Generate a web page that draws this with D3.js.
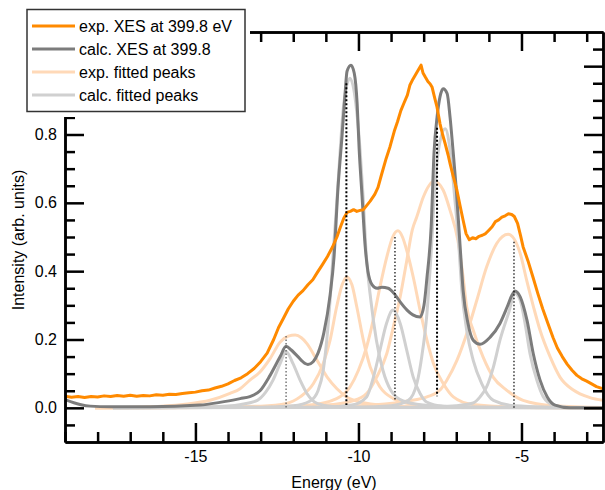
<!DOCTYPE html>
<html>
<head>
<meta charset="utf-8">
<script src="https://cdn.jsdelivr.net/npm/d3@7.9.0/dist/d3.min.js"></script>
<style>
  html, body { margin: 0; padding: 0; background: #fff; }
  svg { display: block; font-family: "Liberation Sans", Arial, sans-serif; }
</style>
</head>
<body>
<svg id="chart" width="605" height="490"></svg>
<script>
// axis ticks
const energyMajor = [-15, -10, -5];
const energyMinor = d3.range(-19, -2, 1).filter(d => d % 5 !== 0);
const intensityMajor = [0, 0.2, 0.4, 0.6, 0.8, 1.0];
const intensityMinor = [-0.05, 0.05, 0.1, 0.15, 0.25, 0.3, 0.35, 0.45, 0.5, 0.55, 0.65, 0.7, 0.75, 0.85, 0.9, 0.95, 1.05];

const legendLabels = ['exp. XES at 399.8 eV', 'calc. XES at 399.8', 'exp. fitted peaks', 'calc. fitted peaks'];

// measured spectrum [energy, intensity]
const expXES = [
  [-19.0,0.034],[-18.8,0.031],[-18.6,0.033],[-18.4,0.030],[-18.2,0.033],[-18.0,0.032],[-17.8,0.035],
  [-17.6,0.033],[-17.4,0.036],[-17.2,0.034],[-17.0,0.037],[-16.8,0.034],[-16.6,0.036],[-16.4,0.035],
  [-16.2,0.038],[-16.0,0.037],[-15.8,0.040],[-15.6,0.039],[-15.4,0.042],[-15.2,0.044],[-15.0,0.046],
  [-14.8,0.050],[-14.6,0.052],[-14.4,0.058],[-14.2,0.063],[-14.0,0.070],[-13.8,0.080],[-13.6,0.088],
  [-13.4,0.100],[-13.2,0.115],[-13.0,0.135],[-12.8,0.160],[-12.6,0.200],[-12.45,0.235],[-12.3,0.262],
  [-12.15,0.290],[-12.0,0.312],[-11.85,0.330],[-11.7,0.343],[-11.55,0.360],[-11.4,0.375],[-11.25,0.398],
  [-11.1,0.420],[-10.95,0.443],[-10.8,0.470],[-10.66,0.500],[-10.55,0.530],[-10.45,0.555],[-10.35,0.572],
  [-10.25,0.575],[-10.15,0.580],[-10.05,0.575],[-9.95,0.578],[-9.85,0.580],[-9.75,0.592],[-9.64,0.605],
  [-9.5,0.625],[-9.4,0.645],[-9.3,0.680],[-9.15,0.730],[-9.03,0.765],[-8.9,0.810],[-8.8,0.838],
  [-8.7,0.870],[-8.6,0.893],[-8.5,0.915],[-8.42,0.945],[-8.33,0.962],[-8.25,0.975],[-8.17,0.988],
  [-8.08,1.003],[-8.02,0.980],[-7.95,0.968],[-7.87,0.955],[-7.8,0.948],[-7.74,0.938],[-7.67,0.910],
  [-7.59,0.880],[-7.5,0.832],[-7.42,0.800],[-7.34,0.773],[-7.25,0.740],[-7.19,0.715],[-7.1,0.680],
  [-6.98,0.637],[-6.88,0.590],[-6.79,0.549],[-6.7,0.510],[-6.6,0.492],[-6.5,0.498],[-6.4,0.495],
  [-6.3,0.502],[-6.2,0.505],[-6.1,0.510],[-6.0,0.520],[-5.9,0.530],[-5.8,0.545],[-5.7,0.550],
  [-5.6,0.558],[-5.5,0.562],[-5.4,0.568],[-5.3,0.566],[-5.22,0.560],[-5.12,0.540],[-5.03,0.505],
  [-4.95,0.471],[-4.8,0.430],[-4.64,0.380],[-4.5,0.335],[-4.35,0.290],[-4.2,0.250],[-4.03,0.205],
  [-3.9,0.175],[-3.75,0.150],[-3.6,0.128],[-3.45,0.110],[-3.3,0.095],[-3.15,0.085],[-3.0,0.078],
  [-2.85,0.070],[-2.7,0.062],[-2.5,0.056]
];

// calculated spectrum
const calcXES = [
  [-19.0,0.024],[-18.54,0.010],[-18.23,0.005],[-17.62,0.003],[-16.39,0.003],[-14.86,0.008],[-14.25,0.016],
  [-13.63,0.027],[-13.33,0.033],[-13.02,0.050],[-12.71,0.095],[-12.40,0.150],[-12.22,0.180],[-12.07,0.170],
  [-11.88,0.152],[-11.64,0.130],[-11.55,0.127],[-11.39,0.135],[-11.24,0.160],[-11.06,0.220],[-10.87,0.330],
  [-10.75,0.440],[-10.63,0.640],[-10.50,0.800],[-10.41,0.920],[-10.35,0.985],[-10.23,1.003],[-10.13,0.980],
  [-10.04,0.890],[-9.98,0.760],[-9.89,0.620],[-9.80,0.480],[-9.71,0.400],[-9.58,0.360],[-9.43,0.350],
  [-9.28,0.353],[-9.09,0.350],[-8.91,0.335],[-8.72,0.310],[-8.51,0.286],[-8.33,0.272],[-8.11,0.266],
  [-7.99,0.300],[-7.90,0.380],[-7.77,0.530],[-7.68,0.750],[-7.59,0.850],[-7.50,0.910],[-7.40,0.934],
  [-7.28,0.920],[-7.19,0.850],[-7.10,0.754],[-7.00,0.640],[-6.88,0.470],[-6.79,0.344],[-6.64,0.247],
  [-6.48,0.198],[-6.27,0.186],[-5.96,0.207],[-5.66,0.247],[-5.44,0.295],[-5.29,0.330],[-5.20,0.342],
  [-5.04,0.325],[-4.83,0.256],[-4.64,0.159],[-4.43,0.081],[-4.21,0.032],[-3.97,0.008],[-3.51,0.0],[-2.5,0.0]
];

// fitted components of the measured spectrum
const expPeak1 = [[-18.08,0],[-16.5,0.003],[-15.38,0.010],[-14.55,0.022],[-13.94,0.042],[-13.63,0.056],[-13.33,0.081],
  [-13.02,0.105],[-12.71,0.144],[-12.40,0.193],[-12.15,0.210],[-11.94,0.213],[-11.75,0.205],[-11.58,0.188],
  [-11.27,0.139],[-10.96,0.090],[-10.66,0.056],[-10.36,0.032],[-9.95,0.017],[-9.2,0.007],[-7.5,0.002],[-2.5,0]];
const expPeak2 = [[-18.08,0],[-14.5,0.002],[-13,0.005],[-12.20,0.013],[-11.79,0.032],[-11.38,0.071],[-11.08,0.130],
  [-10.87,0.198],[-10.67,0.295],[-10.5,0.360],[-10.36,0.383],[-10.2,0.360],[-10.05,0.295],[-9.85,0.198],
  [-9.64,0.120],[-9.34,0.061],[-8.93,0.027],[-8.52,0.013],[-7.5,0.004],[-5,0.001],[-2.5,0]];
const expPeak3 = [[-18.08,0],[-13,0.002],[-11.5,0.008],[-10.67,0.027],[-10.26,0.061],[-10.0,0.110],[-9.75,0.178],
  [-9.55,0.256],[-9.34,0.354],[-9.13,0.442],[-8.95,0.500],[-8.79,0.518],[-8.65,0.500],[-8.52,0.461],
  [-8.32,0.383],[-8.11,0.286],[-7.90,0.198],[-7.70,0.130],[-7.40,0.071],[-7.09,0.032],[-6.5,0.010],[-5,0.002],[-2.5,0]];
const expPeak4 = [[-18.08,0],[-13,0.002],[-11,0.008],[-10.2,0.020],[-9.75,0.042],[-9.44,0.090],[-9.13,0.159],
  [-8.93,0.237],[-8.72,0.325],[-8.52,0.430],[-8.35,0.520],[-8.21,0.559],[-8.01,0.617],[-7.68,0.663],
  [-7.40,0.637],[-7.19,0.578],[-6.95,0.490],[-6.80,0.390],[-6.68,0.295],[-6.48,0.227],[-6.18,0.149],
  [-5.87,0.090],[-5.46,0.052],[-4.95,0.022],[-4.0,0.006],[-2.5,0.001]];
const expPeak5 = [[-18.08,0],[-12,0.002],[-10,0.006],[-8.5,0.020],[-7.9,0.032],[-7.50,0.052],[-7.29,0.081],
  [-6.98,0.139],[-6.68,0.217],[-6.37,0.315],[-6.07,0.412],[-5.76,0.481],[-5.41,0.508],[-5.04,0.452],
  [-4.84,0.373],[-4.63,0.295],[-4.43,0.227],[-4.12,0.149],[-3.82,0.090],[-3.41,0.052],[-2.90,0.030],[-2.5,0.022]];

// fitted components of the calculated spectrum
const calcPeak1 = [[-17.53,0],[-14.5,0.003],[-13.6,0.010],[-13.1,0.022],[-12.85,0.045],[-12.62,0.081],[-12.40,0.130],
  [-12.22,0.165],[-12.01,0.130],[-11.79,0.081],[-11.58,0.042],[-11.27,0.013],[-10.8,0.004],[-9.5,0.001],[-3.05,0]];
const calcPeak2 = [[-17.53,0],[-13,0.002],[-12,0.006],[-11.48,0.020],[-11.24,0.050],[-11.08,0.110],[-10.97,0.200],
  [-10.87,0.315],[-10.77,0.460],[-10.66,0.607],[-10.56,0.754],[-10.45,0.890],[-10.26,0.965],[-10.08,0.890],
  [-9.95,0.754],[-9.85,0.607],[-9.77,0.460],[-9.62,0.315],[-9.45,0.198],[-9.25,0.110],[-9.0,0.050],
  [-8.63,0.020],[-8.0,0.008],[-7,0.003],[-3.05,0]];
const calcPeak3 = [[-17.53,0],[-11,0.002],[-10.2,0.008],[-9.75,0.032],[-9.54,0.090],[-9.34,0.169],[-9.14,0.247],
  [-8.94,0.286],[-8.72,0.247],[-8.52,0.169],[-8.32,0.090],[-8.11,0.042],[-7.91,0.017],[-7.4,0.005],[-6,0.001],[-3.05,0]];
const calcPeak4 = [[-17.53,0],[-10,0.002],[-9,0.006],[-8.47,0.022],[-8.21,0.071],[-8.06,0.149],[-7.90,0.276],
  [-7.78,0.440],[-7.65,0.656],[-7.50,0.780],[-7.34,0.817],[-7.19,0.754],[-7.04,0.607],[-6.94,0.500],
  [-6.83,0.344],[-6.68,0.227],[-6.48,0.139],[-6.22,0.071],[-5.86,0.022],[-5.2,0.006],[-3.05,0]];
const calcPeak5 = [[-17.53,0],[-8,0.002],[-7,0.006],[-6.48,0.014],[-6.27,0.032],[-6.07,0.061],[-5.86,0.120],
  [-5.66,0.198],[-5.40,0.276],[-5.20,0.335],[-5.04,0.315],[-4.89,0.247],[-4.74,0.159],[-4.53,0.081],
  [-4.33,0.032],[-4.02,0.008],[-3.6,0.002],[-3.05,0]];

// dotted drop lines: energy, top, bottom
const dropEnergy = [-12.22, -10.37, -8.88, -7.59, -5.23];
const dropTop = [0.21, 0.95, 0.50, 0.82, 0.486];
const dropBottom = [0.0, 0.008, 0.022, 0.034, 0.0];

const ORANGE = '#ff8a00', DARK = '#7c7c7c', PEACH = '#ffd9b8', LIGHT = '#d0d0d0';
const colors = [ORANGE, DARK, PEACH, LIGHT];

const svg = d3.select('#chart');
const x = d3.scaleLinear().domain([-19, -2.5]).range([65, 603]);
const y = d3.scaleLinear().domain([-0.1, 1.1]).range([442, 32]);

svg.append('clipPath').attr('id', 'plot')
  .append('rect').attr('x', 65).attr('y', 32).attr('width', 538).attr('height', 410);

const line = d3.line().x(d => x(d[0])).y(d => y(d[1])).curve(d3.curveMonotoneX);
const plot = svg.append('g').attr('clip-path', 'url(#plot)');

function draw(data, color, curve) {
  plot.append('path')
    .datum(data)
    .attr('fill', 'none')
    .attr('stroke', color)
    .attr('stroke-width', 3)
    .attr('stroke-linejoin', 'round')
    .attr('d', curve ? line.curve(curve)(data) : line(data));
  line.curve(d3.curveMonotoneX);
}

[expPeak1, expPeak2, expPeak3, expPeak4, expPeak5].forEach(p => draw(p, PEACH));
[calcPeak1, calcPeak2, calcPeak3, calcPeak4, calcPeak5].forEach(p => draw(p, LIGHT));
draw(calcXES, DARK);
draw(expXES, ORANGE, d3.curveLinear);

// dotted markers
const dropBold = [false, true, false, true, false];
dropEnergy.forEach((e, i) => {
  plot.append('line')
    .attr('x1', x(e)).attr('x2', x(e))
    .attr('y1', y(dropTop[i])).attr('y2', y(dropBottom[i]))
    .attr('stroke', i === 0 ? '#555' : '#000')
    .attr('stroke-width', dropBold[i] ? 2 : 1.2)
    .attr('stroke-dasharray', dropBold[i] ? '2,2' : '1.5,2');
});

// axes, ticks pointing inward
function axis(gen, transform, values, size, labels) {
  const g = svg.append('g').attr('transform', transform)
    .call(gen.tickValues(values).tickSize(-size).tickSizeOuter(0).tickPadding(labels ? labels : 0)
      .tickFormat(labels ? null : ''));
  g.selectAll('.tick line').attr('stroke', '#000').attr('stroke-width', 2.5);
  g.select('.domain').attr('stroke', '#000').attr('stroke-width', 2.5);
  g.selectAll('text').attr('font-size', 16).attr('fill', '#000')
    .attr('font-family', '"Liberation Sans", Arial, sans-serif');
  return g;
}

axis(d3.axisBottom(x).tickFormat(d => String(d)), 'translate(0,442)', energyMajor, 19, 9)
  .selectAll('text').text(d => String(d));
axis(d3.axisBottom(x), 'translate(0,442)', energyMinor, 10);
axis(d3.axisTop(x), 'translate(0,32)', energyMajor, 19);
axis(d3.axisTop(x), 'translate(0,32)', energyMinor, 10);

axis(d3.axisLeft(y), 'translate(65,0)', intensityMajor, 19, 8)
  .selectAll('text').text(d => d3.format('.1f')(d));
axis(d3.axisLeft(y), 'translate(65,0)', intensityMinor, 10);
axis(d3.axisRight(y), 'translate(603,0)', intensityMajor, 19);
axis(d3.axisRight(y), 'translate(603,0)', intensityMinor, 10);

// axis titles
svg.append('text')
  .attr('x', 334).attr('y', 488)
  .attr('text-anchor', 'middle').attr('font-size', 16)
  .text('Energy (eV)');
svg.append('text')
  .attr('transform', 'translate(24,240) rotate(-90)')
  .attr('text-anchor', 'middle').attr('font-size', 16)
  .text('Intensity (arb. units)');

// legend
const legend = svg.append('g');
legend.append('rect').attr('x', 22).attr('y', 4).attr('width', 228).attr('height', 113).attr('fill', '#fff');
legend.append('rect').attr('x', 27).attr('y', 9.5).attr('width', 218).attr('height', 102)
  .attr('fill', '#fff').attr('stroke', '#333').attr('stroke-width', 1.5);
legendLabels.forEach((label, i) => {
  const ly = 26 + i * 23;
  legend.append('line')
    .attr('x1', 32).attr('x2', 75).attr('y1', ly).attr('y2', ly)
    .attr('stroke', colors[i]).attr('stroke-width', 3);
  legend.append('text')
    .attr('x', 79).attr('y', ly + 5.5).attr('font-size', 16)
    .text(label);
});
</script>
</body>
</html>
